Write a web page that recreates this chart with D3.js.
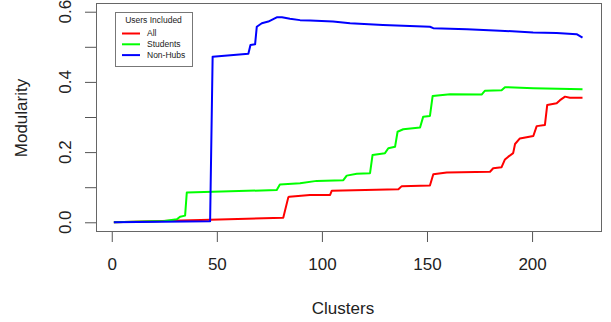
<!DOCTYPE html>
<html>
<head>
<meta charset="utf-8">
<script src="https://cdn.jsdelivr.net/npm/d3@7"></script>
<style>
  body { margin: 0; background: #fff; }
  svg text { font-family: "Liberation Sans", Arial, sans-serif; fill: #222; }
</style>
</head>
<body>
<svg id="chart" width="611" height="322"></svg>
<script>
// values: [clusters, modularity]
var allPoints = [[1,0],[46.8,0.007],[81.6,0.013],[84,0.071],[84.5,0.073],[94.3,0.078],[103.9,0.078],[104.7,0.09],
  [136.4,0.094],[138,0.103],[151.4,0.105],[153,0.137],[159.4,0.142],[180,0.144],[181.5,0.154],[185.5,0.157],
  [187.1,0.179],[188.7,0.187],[191,0.197],[191.9,0.223],[194.2,0.239],[200.6,0.246],[202.2,0.274],[206.1,0.277],
  [207.2,0.334],[211.7,0.339],[213.3,0.348],[215.7,0.358],[218,0.355],[224,0.355]];
var studentPoints = [[1,0],[25,0.004],[31,0.0085],[32.5,0.016],[34.9,0.019],[35.7,0.085],[78.5,0.092],[80,0.108],
  [89.6,0.111],[97.5,0.118],[110.2,0.12],[111.8,0.133],[116.6,0.138],[122.9,0.14],[124.1,0.192],[130,0.197],
  [131.6,0.211],[134.8,0.215],[136,0.258],[138.7,0.265],[146.7,0.27],[148.2,0.301],[151.4,0.303],[152.7,0.36],
  [161,0.365],[176,0.364],[177.6,0.375],[185.5,0.376],[187.1,0.385],[200.6,0.382],[224,0.379]];
var nonHubPoints = [[1,0],[46.8,0.003],[48,0.472],[65,0.48],[66,0.505],[68.2,0.507],[69,0.557],[71.4,0.567],
  [74.5,0.572],[78.5,0.584],[81,0.584],[84.8,0.58],[89.6,0.576],[94.4,0.575],[105.3,0.572],[113.4,0.567],
  [129,0.562],[151.4,0.557],[153,0.553],[169,0.55],[184.7,0.546],[200.5,0.541],[211.7,0.539],[221.2,0.536],[224,0.526]];

var seriesNames = ["All", "Students", "Non-Hubs"];
var seriesColors = ["#ff0000", "#00ff00", "#0000ff"];
var xTicks = [0, 50, 100, 150, 200];
var yTicks = [0, 0.1, 0.2, 0.3, 0.4, 0.5, 0.6];
var yLabelTicks = [0, 0.2, 0.4, 0.6];

var svg = d3.select("#chart");
var plotLeft = 96, plotRight = 601, plotTop = 3, plotBottom = 231;

var x = d3.scaleLinear().domain([-7.5, 232.8]).range([plotLeft, plotRight]);
var y = d3.scaleLinear().domain([-0.0248, 0.6248]).range([plotBottom, plotTop]);

// x axis
var xAxis = svg.append("g")
    .attr("transform", "translate(0," + plotBottom + ")")
    .call(d3.axisBottom(x).tickValues(xTicks).tickSize(11).tickPadding(16).tickFormat(d3.format("d")));
xAxis.select(".domain").remove();
xAxis.selectAll("line").attr("stroke", "#555");
xAxis.selectAll("text").attr("font-size", 17).style("font-family", "Liberation Sans, Arial, sans-serif").attr("fill", "#222");

// y axis
var yAxis = svg.append("g")
    .attr("transform", "translate(" + plotLeft + ",0)")
    .call(d3.axisLeft(y).tickValues(yTicks).tickSize(11).tickFormat(""));
yAxis.select(".domain").remove();
yAxis.selectAll("line").attr("stroke", "#555");

svg.append("g").selectAll("text")
  .data(yLabelTicks)
  .enter().append("text")
    .attr("transform", function(d) { return "translate(71," + y(d) + ") rotate(-90)"; })
    .attr("text-anchor", "middle")
    .attr("font-size", 17)
    .text(d3.format(".1f"));

// axis titles
svg.append("text")
    .attr("x", 343).attr("y", 314)
    .attr("text-anchor", "middle")
    .attr("font-size", 17)
    .text("Clusters");

svg.append("text")
    .attr("transform", "translate(27,118) rotate(-90)")
    .attr("text-anchor", "middle")
    .attr("font-size", 17)
    .text("Modularity");

// lines
var line = d3.line()
    .x(function(d) { return x(d[0]); })
    .y(function(d) { return y(d[1]); });

[allPoints, studentPoints, nonHubPoints].forEach(function(pts, i) {
  svg.append("path")
      .datum(pts)
      .attr("fill", "none")
      .attr("stroke", seriesColors[i])
      .attr("stroke-width", 2)
      .attr("stroke-linejoin", "round")
      .attr("d", line);
});

// plot box
svg.append("rect")
    .attr("x", plotLeft + 0.5).attr("y", plotTop + 0.5)
    .attr("width", plotRight - plotLeft).attr("height", plotBottom - plotTop)
    .attr("fill", "none")
    .attr("stroke", "#666");

// legend
var lg = svg.append("g").attr("transform", "translate(115,12)");
lg.append("rect")
    .attr("x", 0.5).attr("y", 0.5)
    .attr("width", 77).attr("height", 54)
    .attr("fill", "#fff")
    .attr("stroke", "#777");
lg.append("text")
    .attr("x", 38.5).attr("y", 10.5)
    .attr("text-anchor", "middle")
    .attr("font-size", 8.5)
    .text("Users Included");

var item = lg.selectAll(".item")
  .data(seriesNames)
  .enter().append("g")
    .attr("transform", function(d, i) { return "translate(0," + (21.5 + i * 10.8) + ")"; });
item.append("line")
    .attr("x1", 7).attr("x2", 25)
    .attr("stroke", function(d, i) { return seriesColors[i]; })
    .attr("stroke-width", 2);
item.append("text")
    .attr("x", 32).attr("dy", "0.35em")
    .attr("font-size", 8.5)
    .text(function(d) { return d; });
</script>
</body>
</html>
